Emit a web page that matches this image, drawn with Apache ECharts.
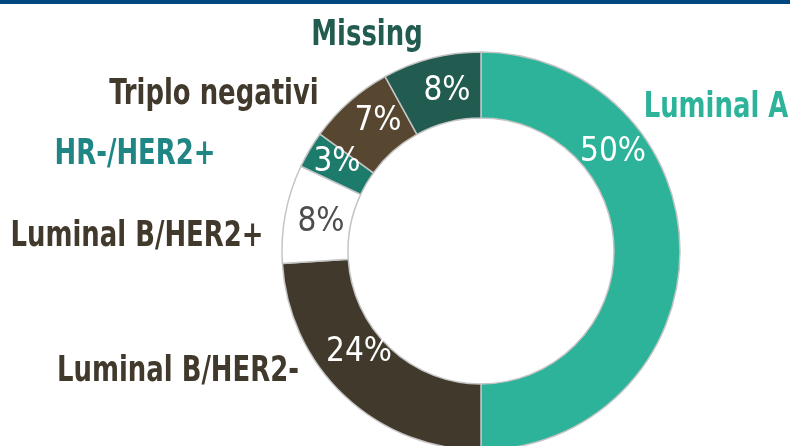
<!DOCTYPE html>
<html><head><meta charset="utf-8">
<script src="https://cdn.jsdelivr.net/npm/echarts@6/dist/echarts.min.js"></script>
<style>html,body{margin:0;padding:0;background:#fff}#c{width:790px;height:446px}</style>
</head><body><div id="c"></div>
<script>
const categories = ['Luminal A','Luminal B/HER2-','Luminal B/HER2+','HR-/HER2+','Triplo negativi','Missing'];
const values = [50,24,8,3,7,8];
const sliceColors = ['#2db39a','#41392b','#ffffff','#1d7b6b','#574630','#225c50'];
const nameColors = ['#2db39a','#41392b','#41392b','#208585','#41392b','#225c50'];
const pctColors = ['#ffffff','#ffffff','#4d4d4d','#ffffff','#ffffff','#ffffff'];
const namePos = [[716,108],[178,372],[137,237],[135,155],[214,95],[367,36]];
const pctPos = [[613,152],[359,352],[321,222],[337,162],[378,121],[447,91]];

const FONT = '"Liberation Sans Narrow","DejaVu Sans Condensed",sans-serif';
const chart = echarts.init(document.getElementById('c'), null, {renderer:'canvas'});
const cx = 481, cy = 251;
chart.setOption({
  animation:false,
  graphic:[
    {type:'rect',shape:{x:0,y:0,width:790,height:4},style:{fill:'#00467f'}}
  ].concat(categories.map((n,i)=>({
    type:'text', x:namePos[i][0], y:namePos[i][1], scaleX:0.8,
    style:{text:n, fill:nameColors[i], font:'bold 36px '+FONT, textAlign:'center', textVerticalAlign:'middle'}
  }))),
  series:[{
    type:'pie',
    center:[cx,cy],
    radius:[133,199],
    startAngle:90,
    clockwise:true,
    avoidLabelOverlap:false,
    itemStyle:{borderColor:'#c4c4c4',borderWidth:1.5},
    label:{show:true,position:'inside',fontFamily:FONT,fontSize:33,
      formatter:p=>p.value+'%'},
    labelLine:{show:false},
    emphasis:{disabled:true},
    labelLayout:function(p){
      const q = pctPos[p.dataIndex];
      return {x:q[0],y:q[1],align:'center',verticalAlign:'middle'};
    },
    data:categories.map((n,i)=>({name:n,value:values[i],
      itemStyle:{color:sliceColors[i]},
      label:{color:pctColors[i]}}))
  }]
});
</script></body></html>
